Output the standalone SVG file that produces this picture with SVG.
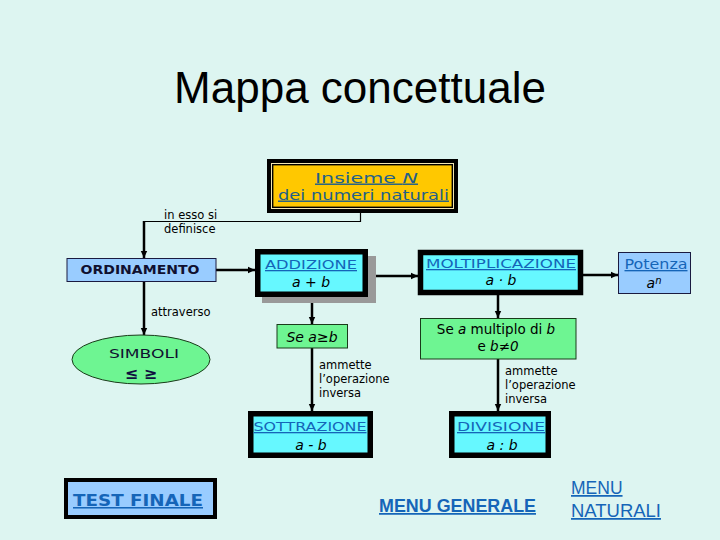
<svg xmlns="http://www.w3.org/2000/svg" width="720" height="540" viewBox="0 0 720 540">
<defs>
<marker id="ah" markerUnits="userSpaceOnUse" markerWidth="8" markerHeight="8" refX="7" refY="4" orient="auto">
<path d="M0,0.8 L7,4 L0,7.2 Z" fill="#000"/>
</marker>
<style>
.v{font-family:"DejaVu Sans",Verdana,sans-serif}
.lk{fill:#1565B8;text-decoration:underline}
.lab{font-family:"DejaVu Sans",Tahoma,sans-serif;font-size:11.5px;fill:#000}
.it{font-family:"DejaVu Sans",Verdana,sans-serif;font-style:italic;font-size:14px;fill:#000}
.cyan{fill:#66F8FF;stroke:#000;stroke-width:5.5}
.blue{fill:#99CCFF;stroke:#1a1a40;stroke-width:1}
.green{fill:#6EF592;stroke:#1a3a1a;stroke-width:1}
.con{fill:none;stroke:#000;stroke-width:2.5;marker-end:url(#ah)}
</style>
</defs>
<rect width="720" height="540" fill="#DDF5F1"/>
<text x="360" y="103" text-anchor="middle" font-family="'Liberation Sans',Arial,sans-serif" font-size="44" fill="#000">Mappa concettuale</text>

<g id="connectors">
<polyline points="360.5,213 360.5,221.5 144,221.5" fill="none" stroke="#000" stroke-width="1.2"/>
<line x1="144" y1="221" x2="144" y2="258" class="con"/>
<line x1="216" y1="270" x2="255" y2="270" class="con"/>
<line x1="368" y1="276" x2="418" y2="276" class="con"/>
<line x1="583" y1="275" x2="618" y2="275" class="con"/>
<line x1="144" y1="282" x2="144" y2="335" class="con"/>
<line x1="312" y1="297" x2="312" y2="324" class="con"/>
<line x1="312" y1="348" x2="312" y2="411" class="con"/>
<line x1="498" y1="295" x2="498" y2="318" class="con"/>
<line x1="498" y1="359" x2="498" y2="411" class="con"/>
</g>

<g id="labels">
<text class="lab" x="164" y="219">in esso si</text>
<text class="lab" x="164" y="233">definisce</text>
<text class="lab" x="151" y="316">attraverso</text>
<text class="lab" x="319" y="369">ammette</text>
<text class="lab" x="319" y="383">l’operazione</text>
<text class="lab" x="319" y="397">inversa</text>
<text class="lab" x="505" y="375">ammette</text>
<text class="lab" x="505" y="389">l’operazione</text>
<text class="lab" x="505" y="403">inversa</text>
</g>

<g id="insieme">
<rect x="267" y="159" width="191" height="54" fill="#000"/>
<rect x="271.5" y="163.5" width="182" height="45" fill="none" stroke="#F2E6B0" stroke-width="1"/>
<rect x="273" y="165" width="179" height="42" fill="#FFC800" stroke="#000" stroke-width="0.8"/>
<text class="v lk" x="315" y="182.5" font-size="14.5" textLength="103" lengthAdjust="spacingAndGlyphs" style="fill:#236089">Insieme <tspan font-style="italic">N</tspan></text>
<text class="v lk" x="278" y="199.5" font-size="14.5" textLength="171" lengthAdjust="spacingAndGlyphs" style="fill:#236089">dei numeri naturali</text>
</g>

<g id="ordinamento">
<rect x="67" y="258.5" width="149" height="23" class="blue"/>
<text class="v" x="140" y="274" text-anchor="middle" font-size="12.5" font-weight="bold" fill="#101030" textLength="119" lengthAdjust="spacingAndGlyphs">ORDINAMENTO</text>
</g>

<g id="addizione">
<rect x="262" y="256" width="114" height="47" fill="#999"/>
<rect x="257.75" y="251.75" width="107.5" height="42.5" class="cyan"/>
<text class="v lk" x="311" y="269" text-anchor="middle" font-size="13" textLength="92" lengthAdjust="spacingAndGlyphs">ADDIZIONE</text>
<text class="it" x="311" y="287" text-anchor="middle">a + b</text>
</g>

<g id="moltiplicazione">
<rect x="420.5" y="252.5" width="160" height="40" class="cyan"/>
<text class="v lk" x="501" y="268" text-anchor="middle" font-size="13" textLength="150" lengthAdjust="spacingAndGlyphs">MOLTIPLICAZIONE</text>
<text class="it" x="501" y="285" text-anchor="middle">a · b</text>
</g>

<g id="potenza">
<rect x="618.5" y="252.5" width="72" height="41" class="blue"/>
<text class="v lk" x="656" y="269" text-anchor="middle" font-size="13.5" textLength="63" lengthAdjust="spacingAndGlyphs">Potenza</text>
<text class="it" x="654" y="288" text-anchor="middle">a<tspan font-size="10" dy="-4">n</tspan></text>
</g>

<g id="simboli">
<ellipse cx="141" cy="359.5" rx="69" ry="24.5" class="green"/>
<text class="v" x="144" y="358" text-anchor="middle" font-size="13" fill="#101030" textLength="70" lengthAdjust="spacingAndGlyphs">SIMBOLI</text>
<text class="v" x="141" y="379" text-anchor="middle" font-size="16" font-weight="bold" fill="#101040">≤   ≥</text>
</g>

<g id="se-a-b">
<rect x="277" y="324.5" width="70.5" height="23.5" class="green"/>
<text class="it" x="312" y="342" text-anchor="middle" font-size="13.5">Se a≥b</text>
</g>

<g id="multiplo">
<rect x="420.5" y="318.5" width="155.5" height="40.5" class="green"/>
<text class="v" x="496" y="334" text-anchor="middle" font-size="13.5" fill="#000">Se <tspan font-style="italic">a</tspan> multiplo di <tspan font-style="italic">b</tspan></text>
<text class="v" x="498" y="351" text-anchor="middle" font-size="13.5" fill="#000">e <tspan font-style="italic">b≠0</tspan></text>
</g>

<g id="sottrazione">
<rect x="250.75" y="413.75" width="119.5" height="41.5" class="cyan"/>
<text class="v lk" x="310" y="431" text-anchor="middle" font-size="13" textLength="113" lengthAdjust="spacingAndGlyphs">SOTTRAZIONE</text>
<text class="it" x="311" y="450" text-anchor="middle">a - b</text>
</g>

<g id="divisione">
<rect x="451.75" y="413.75" width="96.5" height="41.5" class="cyan"/>
<text class="v lk" x="501" y="431" text-anchor="middle" font-size="13" textLength="88" lengthAdjust="spacingAndGlyphs">DIVISIONE</text>
<text class="it" x="502" y="450" text-anchor="middle">a : b</text>
</g>

<g id="test-finale">
<rect x="66" y="480" width="149" height="37" fill="#99CCFF" stroke="#000" stroke-width="4"/>
<text class="v lk" x="73" y="506" font-size="15.5" font-weight="bold" textLength="130" lengthAdjust="spacingAndGlyphs">TEST FINALE</text>
</g>

<g id="menu-generale">
<text x="379" y="512" font-family="'Liberation Sans',Arial,sans-serif" font-size="17.5" font-weight="bold" class="lk" textLength="157" lengthAdjust="spacingAndGlyphs">MENU GENERALE</text>
</g>

<g id="menu-naturali">
<text x="571" y="494" font-family="'Liberation Sans',Arial,sans-serif" font-size="17.5" class="lk">MENU</text>
<text x="571" y="517" font-family="'Liberation Sans',Arial,sans-serif" font-size="17.5" class="lk" textLength="90" lengthAdjust="spacingAndGlyphs">NATURALI</text>
</g>
</svg>
